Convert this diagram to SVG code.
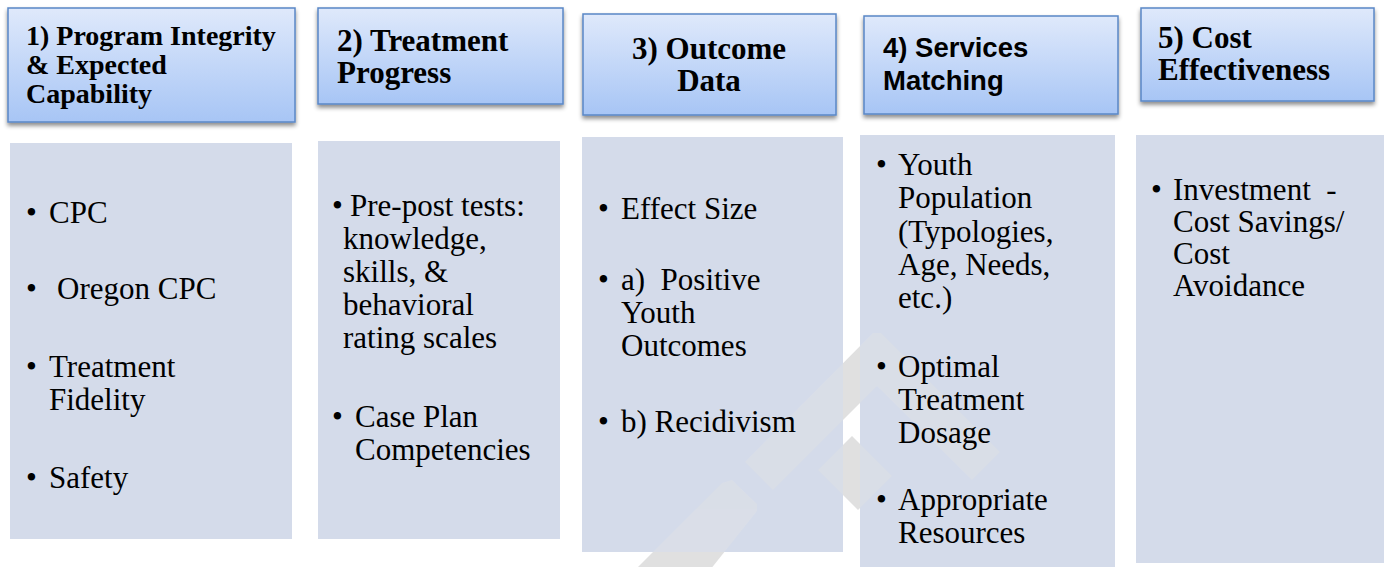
<svg xmlns="http://www.w3.org/2000/svg" width="1384" height="567" viewBox="0 0 1384 567">
<defs>
  <linearGradient id="hdr" x1="0" y1="0" x2="0" y2="1">
    <stop offset="0" stop-color="#dfe9fb"/>
    <stop offset="1" stop-color="#a7c5f5"/>
  </linearGradient>
  <filter id="sh" x="-5%" y="-5%" width="110%" height="125%">
    <feDropShadow dx="0" dy="3" stdDeviation="2" flood-color="#000" flood-opacity="0.45"/>
  </filter>
  <g id="wmshape">
    <polygon points="630,575 722,483 732,480 757,504 757,511 706,575"/>
    <polygon points="745,462 873,333 881,333 1000,452 972,480 877,386 773,490"/>
    <polygon points="818,470 852,436 892,476 858,510"/>
  </g>
  <clipPath id="cb3"><rect x="582" y="137" width="261" height="415"/></clipPath>
  <clipPath id="cb4"><rect x="860" y="135" width="255" height="432"/></clipPath>
</defs>
<style>
  .hdr { fill: url(#hdr); stroke: #5a87c6; stroke-width: 1.5; filter: url(#sh); }
  .body { fill: #d4dbea; }
  .ht { font-family: "Liberation Serif", "Times New Roman", serif; font-weight: bold; fill: #000; }
  .hs { font-family: "Liberation Sans", Arial, sans-serif; font-weight: bold; fill: #000; font-size: 27.5px; }
  .bt { font-family: "Liberation Serif", "Times New Roman", serif; font-size: 31px; fill: #000; }
  .wm-bg { fill: #e0e0e0; }
  .wm-on { fill: #e4e4e4; opacity: 0.35; }
</style>
<rect width="1384" height="567" fill="#ffffff"/>

<g id="watermark"><use href="#wmshape" class="wm-bg"/></g>

<g id="body1"><rect class="body" x="10" y="143" width="282" height="396"/>
  <text class="bt"><tspan x="26" y="223">•</tspan><tspan x="49" y="223">CPC</tspan></text>
  <text class="bt"><tspan x="26" y="299">•</tspan><tspan x="57" y="299">Oregon CPC</tspan></text>
  <text class="bt"><tspan x="26" y="377">•</tspan><tspan x="49" y="377">Treatment</tspan><tspan x="49" y="410">Fidelity</tspan></text>
  <text class="bt"><tspan x="26" y="488">•</tspan><tspan x="49" y="488">Safety</tspan></text>
</g>
<g id="body2"><rect class="body" x="318" y="141" width="242" height="398"/>
  <text class="bt"><tspan x="332" y="216">•</tspan><tspan x="350" y="216">Pre-post tests:</tspan>
    <tspan x="343" y="249">knowledge,</tspan><tspan x="343" y="282">skills, &amp;</tspan><tspan x="343" y="315">behavioral</tspan><tspan x="343" y="348">rating scales</tspan></text>
  <text class="bt"><tspan x="332" y="427">•</tspan><tspan x="355" y="427">Case Plan</tspan><tspan x="355" y="460">Competencies</tspan></text>
</g>
<g id="body3"><rect class="body" x="582" y="137" width="261" height="415"/>
  <use href="#wmshape" class="wm-on" clip-path="url(#cb3)"/>
  <text class="bt"><tspan x="598" y="219">•</tspan><tspan x="621" y="219">Effect Size</tspan></text>
  <text class="bt" xml:space="preserve"><tspan x="598" y="290">•</tspan><tspan x="621" y="290">a)  Positive</tspan><tspan x="621" y="323">Youth</tspan><tspan x="621" y="356">Outcomes</tspan></text>
  <text class="bt"><tspan x="598" y="432">•</tspan><tspan x="621" y="432">b) Recidivism</tspan></text>
</g>
<g id="body4"><rect class="body" x="860" y="135" width="255" height="432"/>
  <use href="#wmshape" class="wm-on" clip-path="url(#cb4)"/>
  <text class="bt"><tspan x="876" y="175">•</tspan><tspan x="898" y="175">Youth</tspan><tspan x="898" y="208">Population</tspan><tspan x="898" y="242">(Typologies,</tspan><tspan x="898" y="275">Age, Needs,</tspan><tspan x="898" y="308">etc.)</tspan></text>
  <text class="bt"><tspan x="876" y="377">•</tspan><tspan x="898" y="377">Optimal</tspan><tspan x="898" y="410">Treatment</tspan><tspan x="898" y="443">Dosage</tspan></text>
  <text class="bt"><tspan x="876" y="510">•</tspan><tspan x="898" y="510">Appropriate</tspan><tspan x="898" y="543">Resources</tspan></text>
</g>
<g id="body5"><rect class="body" x="1136" y="135" width="248" height="428"/>
  <text class="bt" xml:space="preserve"><tspan x="1151" y="200">•</tspan><tspan x="1173" y="200">Investment  -</tspan><tspan x="1173" y="232">Cost Savings/</tspan><tspan x="1173" y="264">Cost</tspan><tspan x="1173" y="296">Avoidance</tspan></text>
</g>

<g id="head1"><rect class="hdr" x="8" y="8" width="287" height="114"/>
  <text class="ht" font-size="28"><tspan x="26" y="45">1) Program Integrity</tspan><tspan x="26" y="74">&amp; Expected</tspan><tspan x="26" y="103">Capability</tspan></text></g>
<g id="head2"><rect class="hdr" x="318" y="8" width="245" height="96"/>
  <text class="ht" font-size="31"><tspan x="337" y="51">2) Treatment</tspan><tspan x="337" y="83">Progress</tspan></text></g>
<g id="head3"><rect class="hdr" x="583" y="14" width="253" height="101"/>
  <text class="ht" font-size="31" text-anchor="middle"><tspan x="709" y="59">3) Outcome</tspan><tspan x="709" y="91">Data</tspan></text></g>
<g id="head4"><rect class="hdr" x="864" y="16" width="254" height="98"/>
  <text class="hs"><tspan x="883" y="57">4) Services</tspan><tspan x="883" y="90">Matching</tspan></text></g>
<g id="head5"><rect class="hdr" x="1141" y="8" width="233" height="93"/>
  <text class="ht" font-size="31"><tspan x="1158" y="48">5) Cost</tspan><tspan x="1158" y="80">Effectiveness</tspan></text></g>
</svg>
